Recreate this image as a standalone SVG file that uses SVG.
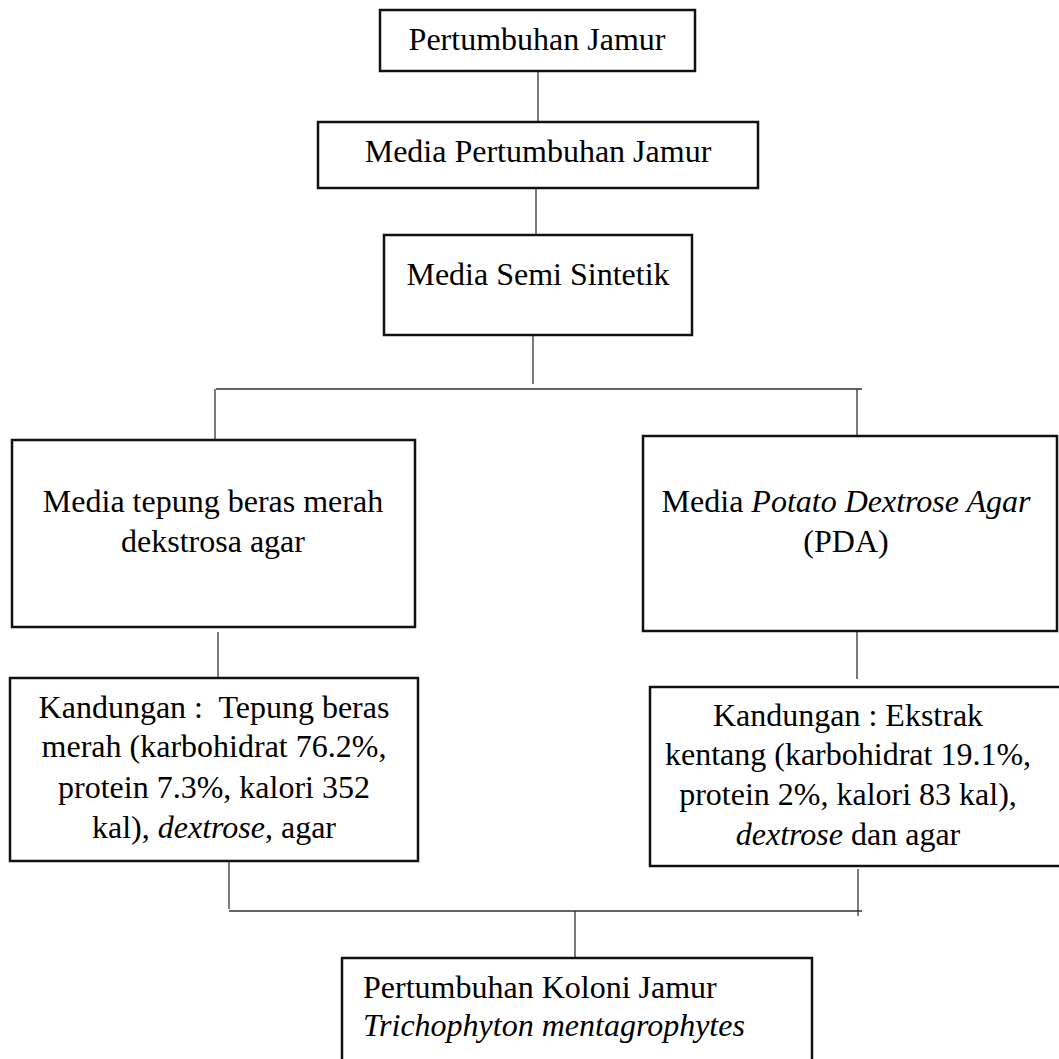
<svg xmlns="http://www.w3.org/2000/svg" width="1059" height="1059" viewBox="0 0 1059 1059">
<style>
.box{fill:#fff;stroke:#111;stroke-width:2.5}
.ln{stroke:#333;stroke-width:1.3;fill:none}
text{font-family:'Liberation Serif',Tinos,'Times New Roman','DejaVu Serif',serif;font-size:32px;fill:#000}
.c{text-anchor:middle}
.i{font-style:italic}
</style>
<rect width="1059" height="1059" fill="#fff"/>
<g id="connectors">
<line class="ln" x1="538" y1="72" x2="538" y2="121"/>
<line class="ln" x1="536" y1="189" x2="536" y2="234"/>
<line class="ln" x1="533" y1="333" x2="533" y2="384"/>
<line class="ln" x1="216" y1="389" x2="862" y2="389"/>
<line class="ln" x1="215" y1="389" x2="215" y2="440"/>
<line class="ln" x1="857" y1="389" x2="857" y2="436"/>
<line class="ln" x1="218" y1="632" x2="218" y2="677"/>
<line class="ln" x1="857" y1="632" x2="857" y2="679"/>
<line class="ln" x1="229" y1="862" x2="229" y2="909"/>
<line class="ln" x1="229" y1="911" x2="862" y2="911"/>
<line class="ln" x1="858" y1="869" x2="858" y2="916"/>
<line class="ln" x1="575" y1="911" x2="575" y2="958"/>
</g>
<g id="n1"><rect class="box" x="380" y="10" width="315" height="61"/><text class="c" x="537" y="50" font-family="Liberation Serif, serif">Pertumbuhan Jamur</text></g>
<g id="n2"><rect class="box" x="318" y="122" width="440" height="66"/><text class="c" x="538" y="162">Media Pertumbuhan Jamur</text></g>
<g id="n3"><rect class="box" x="384" y="235" width="308" height="100"/><text class="c" x="538" y="285">Media Semi Sintetik</text></g>
<g id="n4"><rect class="box" x="12" y="440" width="403" height="187"/>
<text class="c" x="213" y="512">Media tepung beras merah</text>
<text class="c" x="213" y="552">dekstrosa agar</text></g>
<g id="n5"><rect class="box" x="643" y="436" width="414" height="195"/>
<text class="c" x="846" y="512">Media <tspan class="i">Potato Dextrose Agar</tspan></text>
<text class="c" x="846" y="552">(PDA)</text></g>
<g id="n6"><rect class="box" x="10" y="678" width="408" height="183"/>
<text class="c" x="214" y="718" xml:space="preserve">Kandungan :  Tepung beras</text>
<text class="c" x="214" y="757">merah (karbohidrat 76.2%,</text>
<text class="c" x="214" y="798">protein 7.3%, kalori 352</text>
<text class="c" x="214" y="838">kal), <tspan class="i">dextrose</tspan>, agar</text></g>
<g id="n7"><rect class="box" x="650" y="687" width="420" height="179"/>
<text class="c" x="848" y="726">Kandungan : Ekstrak</text>
<text class="c" x="848" y="765">kentang (karbohidrat 19.1%,</text>
<text class="c" x="848" y="805">protein 2%, kalori 83 kal),</text>
<text class="c" x="848" y="845"><tspan class="i">dextrose</tspan> dan agar</text></g>
<g id="n8"><rect class="box" x="342" y="958" width="470" height="120"/>
<text x="363" y="998">Pertumbuhan Koloni Jamur</text>
<text class="i" x="363" y="1036">Trichophyton mentagrophytes</text></g>
</svg>
